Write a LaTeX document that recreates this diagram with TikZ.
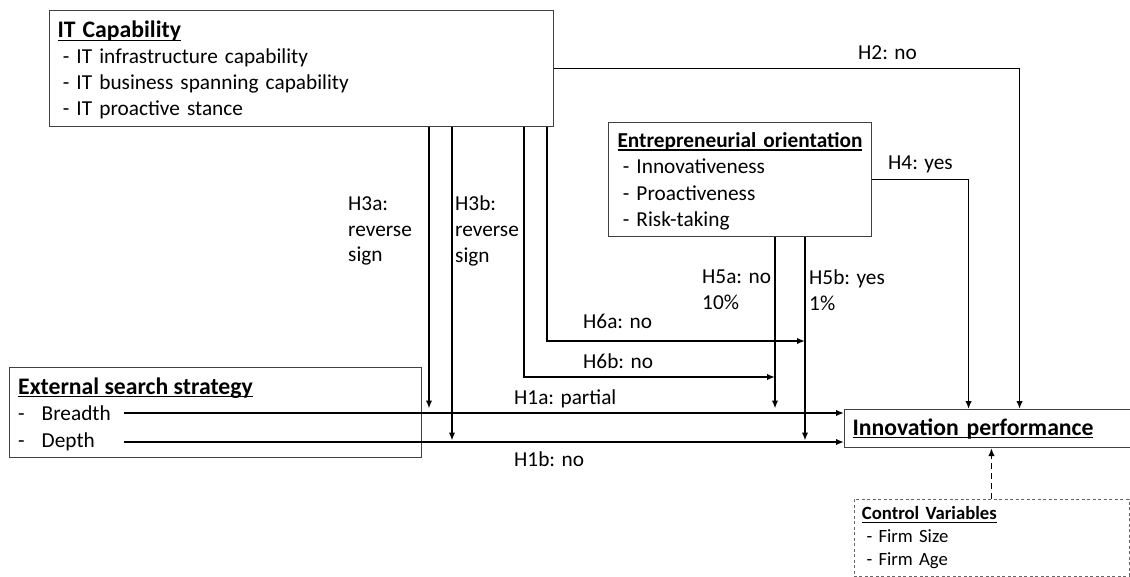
\documentclass[tikz,border=0pt]{standalone}
\usepackage{fontspec}
\setmainfont{Carlito}
\usetikzlibrary{arrows.meta,positioning}

\newsavebox{\headbox}
\newcommand\headul[1]{\sbox\headbox{\bfseries#1}\rlap{\rule[-3pt]{\wd\headbox}{1.2pt}}\usebox\headbox}
\newcommand\toprule[1]{\rule{0pt}{#1}}
\newcommand\botrule[1]{\rule[-#1]{0pt}{#1}}

\begin{document}
\begin{tikzpicture}[
  x=1pt,y=-1pt,
  >={Latex[length=8pt,width=6.5pt]},
  every node/.style={inner sep=0pt},
  construct/.style={draw=black!75,line width=1.1pt,anchor=north west,align=left,
    inner xsep=8pt,font=\fontsize{21.3}{26}\selectfont},
  control/.style={draw=black!60,line width=0.9pt,dash pattern=on 3pt off 2.5pt,
    anchor=north west,align=left,inner xsep=8pt,font=\fontsize{18.7}{23}\selectfont},
  head/.style={anchor=west,font=\fontsize{23.7}{28}\selectfont},
  item/.style={anchor=west,align=left,text width=100pt,font=\fontsize{21.3}{25.7}\selectfont},
  hyp/.style={anchor=west,align=left,font=\fontsize{21.3}{25.7}\selectfont},
  arr/.style={->,line width=1.6pt}
]
\useasboundingbox (0,0) rectangle (1130,577);

% constructs
\node[construct,minimum width=504pt,minimum height=116pt,text width=488pt] (itcap) at (49,10)
  {\toprule{22.6pt}{\fontsize{23.7}{26}\selectfont\headul{IT Capability}}\\
   \hspace*{.25em}- IT infrastructure capability\\
   \hspace*{.25em}- IT business spanning capability\\
   \hspace*{.25em}- IT proactive stance\botrule{6pt}};
\node[construct,minimum width=263pt,minimum height=114pt,text width=245pt,inner xsep=6pt,
  font=\fontsize{21.3}{26.3}\selectfont] (eo) at (608,122)
  {\toprule{21pt}\headul{Entrepreneurial orientation}\\
   \hspace*{.25em}- Innovativeness\\
   \hspace*{.25em}- Proactiveness\\
   \hspace*{.25em}- Risk-taking\botrule{6pt}};
\node[construct,minimum width=412pt,minimum height=90pt] (ess) at (9,367) {};
\node[head] (esshead) at (18,388) {\headul{External search strategy}};
\node[item] (breadth) at (18,413) {-\hspace{17pt}Breadth};
\node[item] (depth) at (18,442) {-\hspace{17pt}Depth};
\node[construct,minimum width=292pt,minimum height=38pt,text width=278pt,
  font=\fontsize{23.7}{28}\selectfont] (innov) at (844,409) {\headul{Innovation performance}};
\node[control,minimum width=275pt,minimum height=77pt,text width=259pt] (ctrl) at (853.5,499)
  {\headul{Control Variables}\\
   \hspace*{.25em}- Firm Size\\
   \hspace*{.25em}- Firm Age};

% hypothesis labels
\node[hyp] (lh2) at (858,53) {H2: no};
\node[hyp] (lh4) at (888,164) {H4: yes};
\node[hyp] (lh3a) at (348,231) {H3a:\\reverse\\sign};
\node[hyp] (lh3b) at (455,231) {H3b:\\reverse\\sign};
\node[hyp] (lh5a) at (702,290) {H5a: no\\10\%};
\node[hyp] (lh5b) at (809,290) {H5b: yes\\1\%};
\node[hyp] (lh6a) at (583,321) {H6a: no};
\node[hyp] (lh6b) at (583,361) {H6b: no};
\node[hyp] (lh1a) at (514,399) {H1a: partial};
\node[hyp] (lh1b) at (514,459) {H1b: no};

\coordinate (h6bin) at (775,377);
\coordinate (h6ain) at (805,341);

\draw[arr] (itcap.east) -| ([xshift=28pt]innov.north);
\draw[arr] (eo.east) -| ([xshift=-23pt]innov.north);
\draw[arr] ([xshift=6pt]breadth.east) -- (breadth -| innov.west);
\draw[arr] ([xshift=6pt]depth.east) -- (depth -| innov.west);
\draw[arr,shorten >=4.5pt] (itcap.south -| 429,0) -- (breadth -| 429,0);
\draw[arr,shorten >=1.5pt] (itcap.south -| 452,0) -- (depth -| 452,0);
\draw[arr] (itcap.south -| 524,0) |- (h6bin);
\draw[arr] (itcap.south -| 547,0) |- (h6ain);
\draw[arr,shorten >=4.5pt] (eo.south -| h6bin) -- (breadth -| h6bin);
\draw[arr,shorten >=1.5pt] (eo.south -| h6ain) -- (depth -| h6ain);
\draw[->,line width=1.5pt,dash pattern=on 6pt off 4pt] (ctrl.north) -- (ctrl.north |- innov.south);
\end{tikzpicture}
\end{document}
